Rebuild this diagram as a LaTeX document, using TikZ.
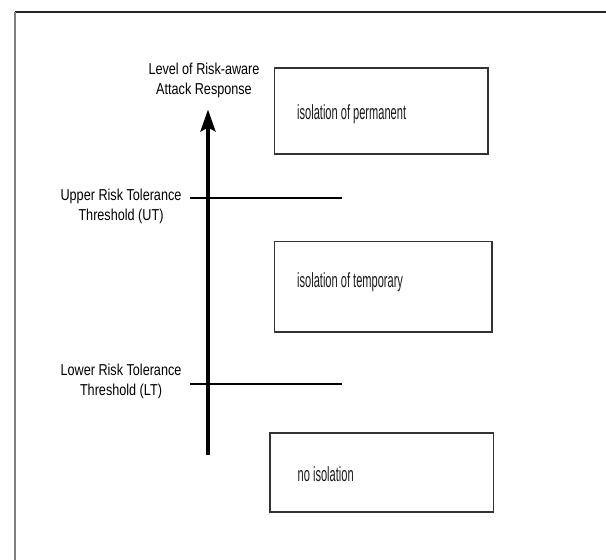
\documentclass[tikz,border=0pt]{standalone}
\usepackage{fontspec}
\setmainfont{Liberation Sans}
\usetikzlibrary{arrows.meta}
\newcommand{\lbl}[1]{\scalebox{0.8}[1]{#1}}
\newcommand{\btx}[1]{\scalebox{0.54}[1]{#1}}
\begin{document}
\begin{tikzpicture}[x=1pt,y=-1pt,
  labeltext/.style={inner sep=0pt,align=center,font=\fontsize{15.8}{20}\selectfont,text=black},
  boxtext/.style={inner sep=0pt,anchor=base west,font=\fontsize{20.5}{24}\selectfont,text=black!90},
  levelbox/.style={draw=black!80,line width=1.5pt},
  threshline/.style={line width=2pt,black},
  axisline/.style={line width=3.5pt,-{Stealth[length=22pt,width=15pt,inset=4pt]}}]
\useasboundingbox (0,0) rectangle (606,560);
% partial frame
\draw[line width=1.5pt,black!85] (14.5,12) -- (606,12);
\draw[line width=2pt,black!50] (14.5,12) -- (14.5,560);
% boxes
\draw[levelbox] (274.5,68) rectangle (488,154);
\draw[levelbox] (274.5,241.5) rectangle (492,332);
\draw[levelbox] (270,433) rectangle (493.5,512);
\node[boxtext] (perm) at (297,119) {\btx{isolation of permanent}};
\node[boxtext] (temp) at (297,287.5) {\btx{isolation of temporary}};
\node[boxtext] (none) at (297.5,481.5) {\btx{no isolation}};
% axis
\coordinate (abot) at (208,455);
\coordinate (atop) at (208,109.5);
\draw[axisline] (abot) -- (atop);
% thresholds
\coordinate (utl) at (190,198);
\coordinate (utr) at (342,198);
\coordinate (ltl) at (190,384);
\coordinate (ltr) at (342,384);
\draw[threshline] (utl) -- (utr);
\draw[threshline] (ltl) -- (ltr);
% labels (base anchor = baseline of the last line)
\node[labeltext,anchor=base] (lvl) at (204,94) {\lbl{Level of Risk-aware}\\\lbl{Attack Response}};
\node[labeltext,anchor=base] (ut) at (121,220) {\lbl{Upper Risk Tolerance}\\\lbl{Threshold (UT)}};
\node[labeltext,anchor=base] (lt) at (121,395) {\lbl{Lower Risk Tolerance}\\\lbl{Threshold (LT)}};
\end{tikzpicture}
\end{document}
